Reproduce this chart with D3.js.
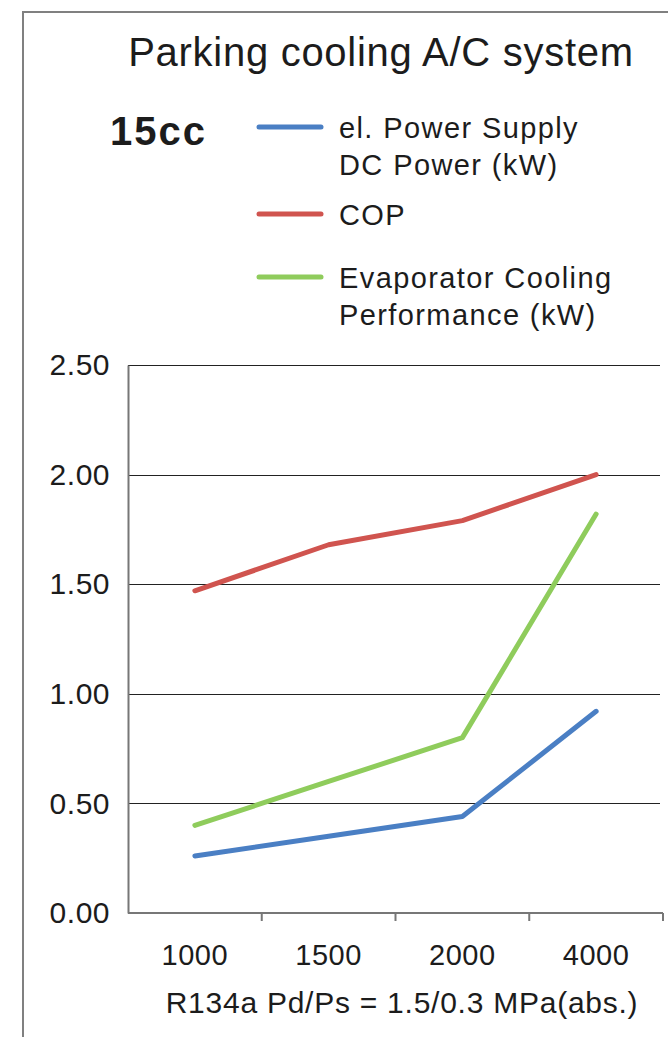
<!DOCTYPE html>
<html>
<head>
<meta charset="utf-8">
<script src="https://cdn.jsdelivr.net/npm/d3@7/dist/d3.min.js"></script>
<style>
  html, body { margin: 0; padding: 0; background: #fff; }
  svg { display: block; }
  text { font-family: "Liberation Sans", Arial, Helvetica, sans-serif; fill: #1c1c1c; }
</style>
</head>
<body>
<svg id="chart" width="668" height="1037"></svg>
<script>
// Compressor speed categories (rpm)
const categories = ["1000", "1500", "2000", "4000"];
const powerSupply = [0.26, 0.35, 0.44, 0.92];   // el. Power Supply DC Power (kW)
const cop = [1.47, 1.68, 1.79, 2.00];           // COP
const cooling = [0.40, 0.60, 0.80, 1.82];       // Evaporator Cooling Performance (kW)
const yTicks = [0, 0.5, 1.0, 1.5, 2.0, 2.5];
const seriesNames = [["el. Power Supply", "DC Power (kW)"], ["COP"], ["Evaporator Cooling", "Performance (kW)"]];
const seriesColors = ["#4a7fc4", "#d0544f", "#8fcc5c"];

const svg = d3.select("#chart");

// Outer frame (top and left edges)
svg.append("path")
  .attr("d", "M23,1037 V12 H668")
  .attr("fill", "none")
  .attr("stroke", "#808080")
  .attr("stroke-width", 2);

// Title and model label
svg.append("text").attr("x", 381).attr("y", 66)
  .attr("text-anchor", "middle").attr("font-size", 40)
  .attr("letter-spacing", 0.72)
  .text("Parking cooling A/C system");
svg.append("text").attr("x", 110).attr("y", 145)
  .attr("font-size", 40).attr("font-weight", "bold")
  .attr("letter-spacing", 2)
  .text("15cc");

// Legend
const legendY = [127, 214, 277];
seriesNames.forEach((lines, i) => {
  const g = svg.append("g");
  g.append("line")
    .attr("x1", 259).attr("x2", 321)
    .attr("y1", legendY[i]).attr("y2", legendY[i])
    .attr("stroke", seriesColors[i]).attr("stroke-width", 5)
    .attr("stroke-linecap", "round");
  lines.forEach((t, j) => {
    g.append("text").attr("x", 339).attr("y", legendY[i] + 11 + j * 37)
      .attr("font-size", 29).attr("letter-spacing", 1.4).text(t);
  });
});

// Scales
const plotLeft = 128, plotRight = 663, plotTop = 365, plotBottom = 913;
const x = d3.scaleBand().domain(categories).range([plotLeft, plotRight]).padding(0);
const y = d3.scaleLinear().domain([0, 2.5]).range([plotBottom, plotTop]);

// Horizontal gridlines
svg.append("g").selectAll("line")
  .data(yTicks.filter(d => d > 0))
  .join("line")
  .attr("x1", plotLeft).attr("x2", 660)
  .attr("y1", d => Math.round(y(d)) + 0.5).attr("y2", d => Math.round(y(d)) + 0.5)
  .attr("stroke", "#222").attr("stroke-width", 1.2);

// Y axis
const yAxis = svg.append("g").attr("transform", `translate(${plotLeft},0)`)
  .call(d3.axisLeft(y).tickValues(yTicks).tickFormat(d3.format(".2f")).tickSize(0).tickPadding(18));
yAxis.select(".domain").attr("stroke", "#777").attr("stroke-width", 2);
yAxis.selectAll("text").attr("font-size", 30).attr("fill", "#1c1c1c")
  .attr("letter-spacing", 0.5)
  .attr("font-family", "Liberation Sans, Arial, sans-serif");

// X axis with ticks at category boundaries
const xAxis = svg.append("g").attr("transform", `translate(0,${plotBottom})`);
xAxis.append("line")
  .attr("x1", plotLeft).attr("x2", plotRight)
  .attr("y1", 0).attr("y2", 0)
  .attr("stroke", "#777").attr("stroke-width", 2);
xAxis.selectAll("line.tick")
  .data(categories)
  .join("line").attr("class", "tick")
  .attr("x1", d => x(d) + x.bandwidth()).attr("x2", d => x(d) + x.bandwidth())
  .attr("y1", 0).attr("y2", 8)
  .attr("stroke", "#777").attr("stroke-width", 2);
xAxis.selectAll("text.tick")
  .data(categories)
  .join("text").attr("class", "tick")
  .attr("x", d => x(d) + x.bandwidth() / 2)
  .attr("y", 52)
  .attr("text-anchor", "middle").attr("font-size", 29)
  .attr("letter-spacing", 0.6)
  .text(d => d);

svg.append("text").attr("x", 402).attr("y", 1013)
  .attr("text-anchor", "middle").attr("font-size", 30)
  .attr("letter-spacing", 0.75)
  .text("R134a Pd/Ps = 1.5/0.3 MPa(abs.)");

// Series lines
const line = d3.line()
  .x((d, i) => x(categories[i]) + x.bandwidth() / 2)
  .y(d => y(d));
[powerSupply, cop, cooling].forEach((vals, i) => {
  svg.append("path")
    .datum(vals)
    .attr("d", line)
    .attr("fill", "none")
    .attr("stroke", seriesColors[i])
    .attr("stroke-width", 5)
    .attr("stroke-linecap", "round")
    .attr("stroke-linejoin", "round");
});
</script>
</body>
</html>
